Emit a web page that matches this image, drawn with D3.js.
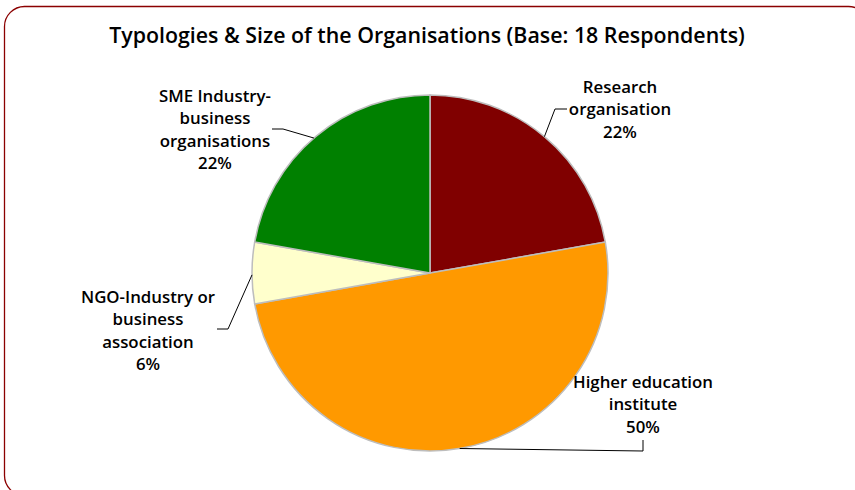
<!DOCTYPE html>
<html><head><meta charset="utf-8">
<script src="https://cdn.jsdelivr.net/npm/d3@7"></script>
<style>body{margin:0;background:#fff}svg{display:block}</style>
</head><body>
<script>
const categories = ["Research organisation","Higher education institute","NGO-Industry or business association","SME Industry-business organisations"];
const counts = [4, 9, 1, 4];
const labelLines = [["Research","organisation"],["Higher education","institute"],["NGO-Industry or","business","association"],["SME Industry-","business","organisations"]];
const colors = ["#800000","#FF9900","#FFFFCC","#008000"];
const title = "Typologies & Size of the Organisations (Base: 18 Respondents)";

const W=855,H=490;
const svg=d3.select("body").append("svg").attr("width",W).attr("height",H);
svg.append("rect").attr("x",4.5).attr("y",6.5).attr("width",864).attr("height",489).attr("rx",20)
  .attr("fill","#fff").attr("stroke","#8B0000").attr("stroke-width",1.3);
const font="'Open Sans', sans-serif";
const tt=svg.append("text").attr("x",427).attr("y",43).attr("text-anchor","middle")
  .attr("font-family",font).attr("font-weight",600).attr("font-size",19).attr("fill","#000").text(title);
const tw=tt.node().getComputedTextLength();
tt.attr("font-size",19*636/tw);

const cx=430,cy=273,R=178;
const total=d3.sum(counts);
const pie=d3.pie().sort(null).value(d=>d)(counts);
const arc=d3.arc().innerRadius(0).outerRadius(R);
const g=svg.append("g").attr("transform",`translate(${cx},${cy})`);
g.selectAll("path").data(pie).join("path").attr("d",arc)
  .attr("fill",(d,i)=>colors[i]).attr("stroke","#bdbdbd").attr("stroke-width",1.5);

const probe=svg.append("text").attr("font-family",font).attr("font-weight",600).attr("font-size",14).text("Higher education");
const lfs=14*140/probe.node().getComputedTextLength();
probe.remove();

const labelPos=[[620,87],[643,382],[148,297],[215,96]];
const pct=d3.format(".0%");
const lh=22.5;
labelLines.forEach((lines,i)=>{
  const t=svg.append("text").attr("text-anchor","middle").attr("font-family",font)
    .attr("font-weight",600).attr("font-size",lfs).attr("fill","#000");
  const all=lines.concat([pct(counts[i]/total)]);
  all.forEach((s,j)=>t.append("tspan").attr("x",labelPos[i][0]).attr("y",labelPos[i][1]+j*lh+5.5).text(s));
});
function edge(a){return [cx+R*Math.sin(a),cy-R*Math.cos(a)];}
const deg=Math.PI/180;
const leaders=[
  [edge(40*deg),[555,109],[567,109]],
  [edge(170.4*deg),[643,451],[643,440]],
  [edge(269.4*deg),[228,329],[217,329]],
  [edge(319.3*deg),[283,129],[272,129]]
];
leaders.forEach(p=>svg.append("path").attr("d",d3.line()(p)).attr("fill","none").attr("stroke","#000").attr("stroke-width",1));
</script>
</body></html>
